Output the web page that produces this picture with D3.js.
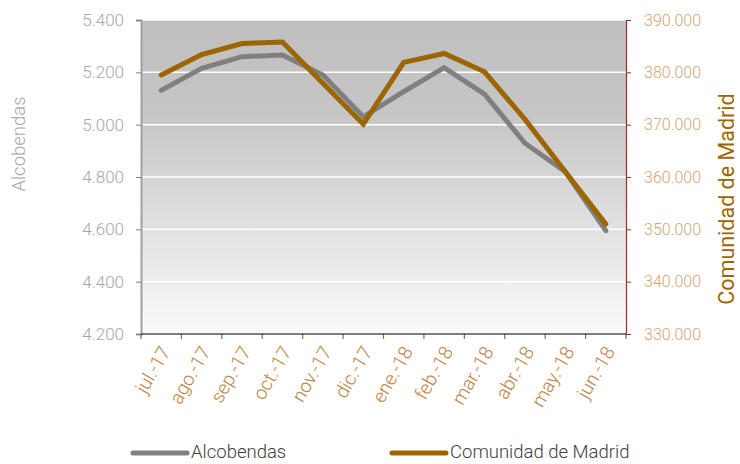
<!DOCTYPE html>
<html>
<head>
  <meta charset="utf-8" />
  <script src="https://d3js.org/d3.v7.min.js"></script>
  <style>
    body{margin:0;background:#fff;}
    text{font-family:Roboto,"Liberation Sans",sans-serif;font-weight:300;}
  </style>
</head>
<body>
<script>
// data
var months = ["jul.-17","ago.-17","sep.-17","oct.-17","nov.-17","dic.-17","ene.-18","feb.-18","mar.-18","abr.-18","may.-18","jun.-18"];
var alcobendas = [5131,5215,5260,5266,5190,5030,5126,5218,5117,4929,4820,4595];
var madrid = [379500,383400,385500,385800,377900,370100,381900,383600,380100,371000,361000,351000];
var leftTicks = [4200,4400,4600,4800,5000,5200,5400];
var rightTicks = [330000,340000,350000,360000,370000,380000,390000];

var W = 740, H = 464;
var m = {top:20, left:141, right:626, bottom:334};
var fmt = function(v){ return d3.format(",.0f")(v).replace(/,/g,"."); };
var svg = d3.select("body").append("svg").attr("width",W).attr("height",H);

var x = d3.scaleBand().domain(months).range([m.left,m.right]);
var yL = d3.scaleLinear().domain([4200,5400]).range([m.bottom,m.top]);
var yR = d3.scaleLinear().domain([330000,390000]).range([m.bottom,m.top]);

// background gradient
var grad = svg.append("defs").append("linearGradient").attr("id","bg")
  .attr("x1",0).attr("y1",0).attr("x2",0).attr("y2",1);
grad.append("stop").attr("offset","0%").attr("stop-color","#bfbfbf");
grad.append("stop").attr("offset","30%").attr("stop-color","#c6c6c6");
grad.append("stop").attr("offset","100%").attr("stop-color","#fafafa");
svg.append("rect").attr("x",m.left).attr("y",m.top)
  .attr("width",m.right-m.left).attr("height",m.bottom-m.top).attr("fill","url(#bg)");

// gridlines
svg.selectAll(".grid").data(leftTicks.slice(1)).enter().append("line")
  .attr("x1",m.left).attr("x2",m.right)
  .attr("y1",function(d){return yL(d);}).attr("y2",function(d){return yL(d);})
  .attr("stroke","#fff").attr("stroke-width",1.5);

// left axis
var gL = svg.append("g").attr("transform","translate("+m.left+",0)")
  .call(d3.axisLeft(yL).tickValues(leftTicks).tickFormat(fmt).tickSize(5).tickPadding(12));
gL.select(".domain").attr("stroke","#a0a0a0").attr("stroke-width",2);
gL.selectAll(".tick line").attr("stroke","#808080");
gL.selectAll("text").attr("fill","#a6a6a6").style("font-size","17px");

// right axis
var gR = svg.append("g").attr("transform","translate("+m.right+",0)")
  .call(d3.axisRight(yR).tickValues(rightTicks).tickFormat(fmt).tickSize(5).tickPadding(13));
gR.select(".domain").attr("stroke","#a52a2a").attr("stroke-width",1.2);
gR.selectAll(".tick line").attr("stroke","#a52a2a");
gR.selectAll("text").attr("fill","#d4a474").style("font-size","16px");

// bottom axis with ticks at band edges
var edges = d3.range(months.length+1).map(function(i){ return m.left + i*x.step(); });
svg.selectAll(".xt").data(edges).enter().append("line")
  .attr("x1",function(d){return d;}).attr("x2",function(d){return d;})
  .attr("y1",m.bottom).attr("y2",m.bottom+5).attr("stroke","#707070").attr("stroke-width",1.2);
svg.append("line").attr("x1",m.left).attr("x2",m.right).attr("y1",m.bottom).attr("y2",m.bottom)
  .attr("stroke","#000").attr("stroke-width",1.2);
svg.selectAll(".xl").data(months).enter().append("text")
  .attr("transform",function(d){ return "translate("+(x(d)+x.bandwidth()/2+4)+","+(m.bottom+14)+") rotate(-60)"; })
  .attr("text-anchor","end").attr("dy","0.35em")
  .attr("fill","#bd8244").style("font-size","19px").text(function(d){return d;});

// lines
var cx = function(d,i){ return x(months[i])+x.bandwidth()/2; };
svg.append("path").datum(alcobendas)
  .attr("d",d3.line().x(cx).y(function(d){return yL(d);}))
  .attr("fill","none").attr("stroke","#808080").attr("stroke-width",5).attr("stroke-linecap","round");
svg.append("path").datum(madrid)
  .attr("d",d3.line().x(cx).y(function(d){return yR(d);}))
  .attr("fill","none").attr("stroke","#9c6500").attr("stroke-width",5).attr("stroke-linecap","round");

// axis titles
svg.append("text").attr("transform","translate(25,144) rotate(-90)").attr("text-anchor","middle")
  .attr("fill","#a6a6a6").style("font-size","18.5px").text("Alcobendas");
svg.append("text").attr("transform","translate(734,199) rotate(-90)").attr("text-anchor","middle")
  .attr("fill","#9c6500").style("font-size","21.5px").style("font-weight","400").text("Comunidad de Madrid");

// legend
var legend = [{name:"Alcobendas",color:"#808080",x:133},{name:"Comunidad de Madrid",color:"#9c6500",x:392}];
var lg = svg.selectAll(".lg").data(legend).enter().append("g");
lg.append("line").attr("x1",function(d){return d.x;}).attr("x2",function(d){return d.x+54;})
  .attr("y1",453).attr("y2",453).attr("stroke",function(d){return d.color;})
  .attr("stroke-width",5).attr("stroke-linecap","round");
lg.append("text").attr("x",function(d){return d.x+58;}).attr("y",452).attr("dy","0.35em")
  .attr("fill","#404040").style("font-size","18.5px").text(function(d){return d.name;});
</script>
</body>
</html>
